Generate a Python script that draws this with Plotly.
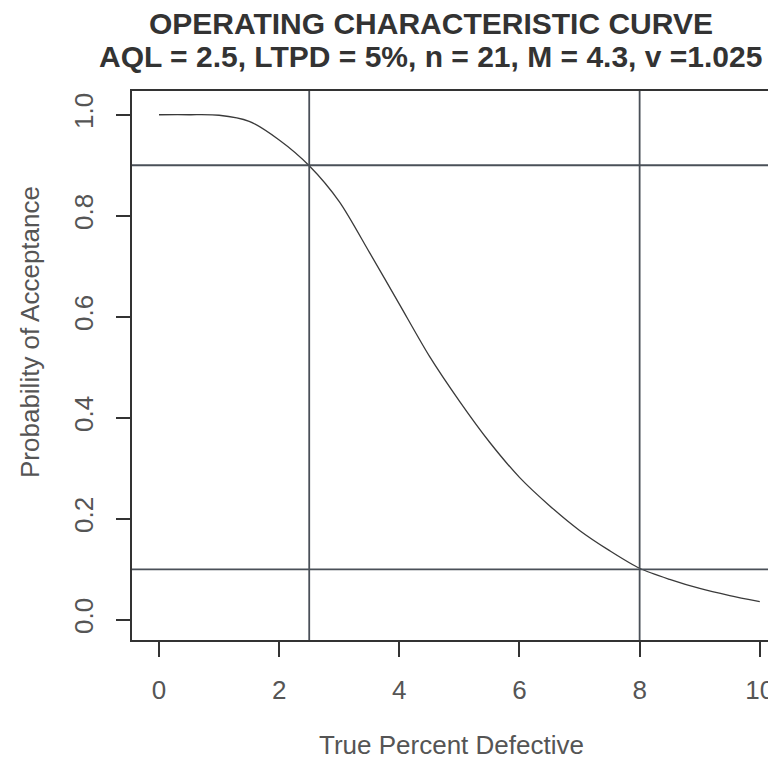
import plotly.graph_objects as go

# Data
pct_defective = [0, 0.5, 1.0, 1.5, 2.0, 2.5, 3.0, 3.5, 4.0, 4.5, 5.0,
                 5.5, 6.0, 6.5, 7.0, 7.5, 8.0, 8.5, 9.0, 9.5, 10.0]
prob_accept = [1.000, 1.000, 0.999, 0.987, 0.950, 0.899, 0.828, 0.728, 0.625, 0.522, 0.433,
               0.352, 0.282, 0.226, 0.177, 0.137, 0.102, 0.080, 0.062, 0.048, 0.036]
h_lines = [0.9, 0.1]
v_lines = [2.5, 8.0]
x_ticks = [0, 2, 4, 6, 8, 10]
y_ticks = [0.0, 0.2, 0.4, 0.6, 0.8, 1.0]
y_tick_text = ["0.0", "0.2", "0.4", "0.6", "0.8", "1.0"]

title1 = "OPERATING CHARACTERISTIC CURVE"
title2 = "AQL = 2.5, LTPD = 5%, n = 21, M = 4.3, v =1.025"

FONT = "Liberation Sans, Arial, sans-serif"
LINE_COL = "#3a3a3a"
REF_COL = "#4a5058"
TXT_COL = "#555555"

# page body has an 8px default margin; plot area placed to match reference pixels
L, T, PW, PH = 132 - 8, 91 - 8, 644, 549
W, H = 768, 752

fig = go.Figure()
fig.add_trace(go.Scatter(
    x=pct_defective, y=prob_accept, mode="lines",
    line=dict(color=LINE_COL, width=1.3, shape="spline", smoothing=0.8),
    showlegend=False, hoverinfo="x+y"))

for h in h_lines:
    fig.add_shape(type="line", xref="paper", yref="y", x0=0, x1=1, y0=h, y1=h,
                  line=dict(color=REF_COL, width=1.8))
for v in v_lines:
    fig.add_shape(type="line", xref="x", yref="paper", x0=v, x1=v, y0=0, y1=1,
                  line=dict(color=REF_COL, width=1.8))

fig.update_layout(
    width=W, height=H,
    margin=dict(l=L, r=W - L - PW, t=T, b=H - T - PH, autoexpand=False),
    paper_bgcolor="white", plot_bgcolor="white",
    font=dict(family=FONT, color=TXT_COL, size=26),
    showlegend=False,
    annotations=[
        dict(text="<b>" + title1 + "</b>", xref="paper", yref="paper",
             x=(431 - 132) / 644, y=1 + (91 - 24) / 549, xanchor="center", yanchor="middle",
             showarrow=False, font=dict(family=FONT, size=30, color="#333333")),
        dict(text="<b>" + title2 + "</b>", xref="paper", yref="paper",
             x=(430 - 132) / 644, y=1 + (91 - 56) / 549, xanchor="center", yanchor="middle",
             showarrow=False, font=dict(family=FONT, size=30, color="#333333")),
        dict(text="True Percent Defective", xref="paper", yref="paper",
             x=(451 - 132) / 644, y=-(745 - 640) / 549, xanchor="center", yanchor="middle",
             showarrow=False, font=dict(family=FONT, size=26, color=TXT_COL)),
        dict(text="Probability of Acceptance", xref="paper", yref="paper",
             x=-(132 - 30) / 644, y=(640 - 332) / 549, xanchor="center", yanchor="middle",
             textangle=-90, showarrow=False, font=dict(family=FONT, size=26, color=TXT_COL)),
    ],
)

fig.update_xaxes(
    range=[-0.45, 10.27], tickvals=x_ticks, ticktext=[str(t) for t in x_ticks],
    ticks="outside", ticklen=15, tickwidth=1.5, tickcolor="#333333",
    showline=True, linecolor="#333333", linewidth=1.8, mirror=True,
    showgrid=False, zeroline=False, ticklabelstandoff=11, automargin=False,
    tickfont=dict(family=FONT, size=26, color=TXT_COL))
fig.update_yaxes(
    range=[-0.04, 1.047], tickvals=y_ticks, ticktext=y_tick_text,
    ticks="outside", ticklen=14, tickwidth=1.5, tickcolor="#333333",
    showline=True, linecolor="#333333", linewidth=1.8, mirror=False,
    showgrid=False, zeroline=False, tickangle=-90, ticklabelstandoff=13, automargin=False,
    tickfont=dict(family=FONT, size=26, color=TXT_COL))

fig.write_html("out.html")
